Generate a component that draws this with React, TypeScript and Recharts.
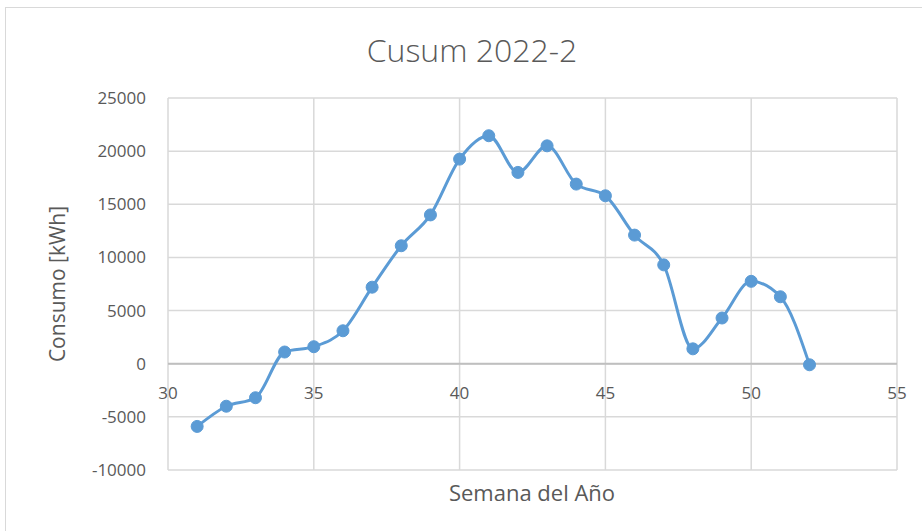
import React from "react";
import {
  LineChart,
  Line,
  XAxis,
  YAxis,
  CartesianGrid,
  ReferenceLine,
} from "recharts";

const weeks = [31, 32, 33, 34, 35, 36, 37, 38, 39, 40, 41, 42, 43, 44, 45, 46, 47, 48, 49, 50, 51, 52];
const cusum = [
  -5900, -4000, -3200, 1100, 1600, 3100, 7200, 11100, 14000, 19250, 21450, 18000,
  20500, 16900, 15800, 12100, 9300, 1400, 4300, 7750, 6300, -100,
];
const xTicks = [30, 35, 40, 45, 50, 55];
const yTicks = [-10000, -5000, 0, 5000, 10000, 15000, 20000, 25000];
const title = "Cusum 2022-2";
const xTitle = "Semana del Año";
const yTitle = "Consumo [kWh]";

const data = weeks.map((w, i) => ({ week: w, value: cusum[i] }));

const W = 922;
const H = 531;
const PLOT_LEFT = 168;
const PLOT_RIGHT = 897;
const PLOT_TOP = 98;
const PLOT_BOTTOM = 470;
const Y_MIN = -10000;
const Y_MAX = 25000;
const Y_AXIS_W = 60;
const X_AXIS_H = 30;
const FONT = "'Open Sans', 'Noto Sans', sans-serif";
const TEXT = "#595959";

const zeroY =
  PLOT_TOP + ((PLOT_BOTTOM - PLOT_TOP) * (Y_MAX - 0)) / (Y_MAX - Y_MIN);

const XTick = (props: any) => {
  const { x, payload } = props;
  return (
    <text
      x={x}
      y={zeroY + 35}
      textAnchor="middle"
      fill={TEXT}
      fontSize={17}
      fontFamily={FONT}
    >
      {payload.value}
    </text>
  );
};

export default function App() {
  return (
    <div style={{ position: "relative", width: W, height: H, overflow: "hidden", background: "#fff" }}>
      <style>{`body{margin:0;}`}</style>
      <div
        style={{
          position: "absolute",
          left: 5,
          top: 7,
          width: W + 20,
          height: H + 20,
          border: "1px solid #d9d9d9",
          boxSizing: "border-box",
        }}
      />
      <LineChart
        width={W}
        height={H}
        data={data}
        margin={{
          top: PLOT_TOP,
          right: W - PLOT_RIGHT,
          bottom: H - PLOT_BOTTOM - X_AXIS_H,
          left: PLOT_LEFT - Y_AXIS_W,
        }}
      >
        <CartesianGrid stroke="#d9d9d9" strokeWidth={1.5} />
        <XAxis
          dataKey="week"
          type="number"
          domain={[30, 55]}
          ticks={xTicks}
          axisLine={false}
          tickLine={false}
          height={X_AXIS_H}
          tick={XTick}
          interval={0}
        />
        <YAxis
          type="number"
          domain={[Y_MIN, Y_MAX]}
          ticks={yTicks}
          width={Y_AXIS_W}
          axisLine={false}
          tickLine={false}
          tickSize={0}
          tickMargin={22}
          interval={0}
          tick={{ fill: TEXT, fontSize: 17, fontFamily: FONT }}
        />
        <ReferenceLine y={0} stroke="#bfbfbf" strokeWidth={2} />
        <Line
          type="monotone"
          dataKey="value"
          stroke="#5b9bd5"
          strokeWidth={3}
          dot={{ r: 6, fill: "#5b9bd5", stroke: "#5b9bd5", strokeWidth: 1 }}
          isAnimationActive={false}
        />
      </LineChart>
      <div
        style={{
          position: "absolute",
          left: 472 - 200,
          width: 400,
          top: 28,
          textAlign: "center",
          fontFamily: FONT,
          fontSize: 32,
          fontWeight: 300,
          color: TEXT,
          lineHeight: "44px",
        }}
      >
        {title}
      </div>
      <div
        style={{
          position: "absolute",
          left: 532 - 150,
          width: 300,
          top: 476,
          textAlign: "center",
          fontFamily: FONT,
          fontSize: 22,
          color: TEXT,
          lineHeight: "32px",
        }}
      >
        {xTitle}
      </div>
      <div
        style={{
          position: "absolute",
          left: 57 - 100,
          top: (PLOT_TOP + PLOT_BOTTOM) / 2 - 16,
          width: 200,
          textAlign: "center",
          fontFamily: FONT,
          fontSize: 21,
          color: TEXT,
          lineHeight: "32px",
          transform: "rotate(-90deg)",
        }}
      >
        {yTitle}
      </div>
    </div>
  );
}
